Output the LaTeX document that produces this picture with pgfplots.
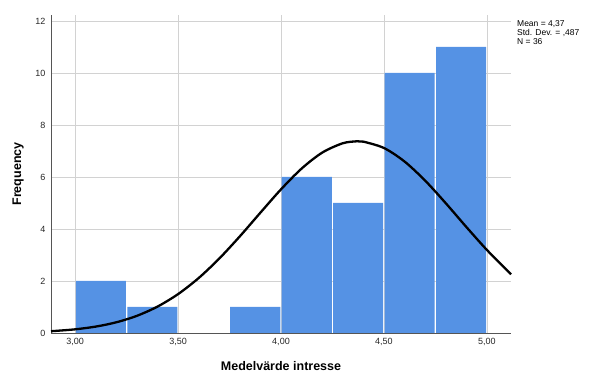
\documentclass[border=0pt]{standalone}
\usepackage{fontspec}
\setmainfont{Liberation Sans}
\usepackage{pgfplots}
\pgfplotsset{compat=1.18}
\definecolor{barblue}{HTML}{5592E4}
\definecolor{gridgray}{HTML}{D2D2D2}
\definecolor{axgray}{HTML}{555555}
\begin{document}
\begin{tikzpicture}
\path[use as bounding box] (0,0) rectangle (591pt,374pt);
\begin{axis}[
  at={(51pt,41pt)}, anchor=south west,
  scale only axis, width=460pt, height=318pt,
  xmin=2.883, xmax=5.117, ymin=0, ymax=12.23,
  axis x line*=bottom, axis y line*=left,
  axis line style={axgray, line width=0.8pt, -},
  xtick={3,3.5,4,4.5,5}, ytick={0,2,4,6,8,10,12},
  major tick length=0pt,
  grid=major, grid style={gridgray, line width=0.8pt},
  /pgf/number format/assume math mode=true,
  x tick label style={/pgf/number format/use comma, /pgf/number format/fixed, /pgf/number format/fixed zerofill, /pgf/number format/precision=2, yshift=-2pt},
  tick label style={font=\fontsize{9}{10}\selectfont, text=black!85},
  y tick label style={xshift=-2pt},
  xlabel={Medelvärde intresse},
  ylabel={Frequency},
  label style={font=\fontsize{12.5}{14}\selectfont\bfseries},
  xlabel style={at={(axis description cs:0.5,0)}, anchor=center, yshift=-33pt},
  ylabel style={at={(axis description cs:-0.0717,0.5)}, anchor=center},
  clip=false,
]
\addplot[ybar, bar width=0.243, fill=barblue, draw=none] coordinates {
  (3.125,2) (3.375,1) (3.875,1) (4.125,6) (4.375,5) (4.625,10) (4.875,11)
};
\addplot[black, line width=2.3pt, smooth, no marks] coordinates {
  (2.883,0.0684) (2.9,0.0775) (3.0,0.1410) (3.1,0.2460) (3.2,0.4114)
  (3.3,0.6597) (3.4,1.0142) (3.5,1.4950) (3.6,2.1124) (3.7,2.8617)
  (3.8,3.7167) (3.9,4.6281) (4.0,5.5248) (4.1,6.3227) (4.2,6.9372)
  (4.3,7.2972) (4.37,7.373) (4.4,7.3590) (4.5,7.1149) (4.6,6.5950)
  (4.7,5.8605) (4.8,4.9930) (4.9,4.0781) (5.0,3.1934) (5.1,2.3974)
  (5.117,2.2524)
};
\node[anchor=north west, align=left, inner sep=0pt, font=\fontsize{8.5}{9}\selectfont]
  at (axis description cs:1.013,0.983) {Mean = 4,37\\Std. Dev. = ,487\\N = 36};
\end{axis}
\end{tikzpicture}
\end{document}
